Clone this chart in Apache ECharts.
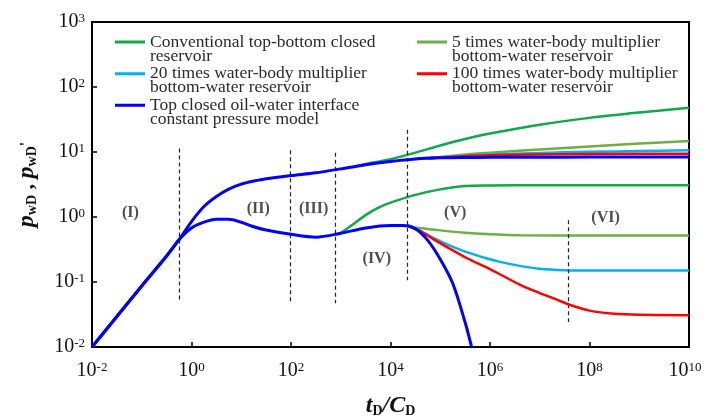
<!DOCTYPE html>
<html>
<head>
<meta charset="utf-8">
<script src="https://cdn.jsdelivr.net/npm/echarts@6/dist/echarts.min.js"></script>
<style>
html, body { margin: 0; padding: 0; background: #fff; }
#main { width: 704px; height: 417px; }
</style>
</head>
<body>
<div id="main"></div>
<script>
// names of the five models (two-line legend text)
const nameConv = 'Conventional top-bottom closed\nreservoir'
const name20 = '20 times water-body multiplier\nbottom-water reservoir'
const nameTop = 'Top closed oil-water interface\nconstant pressure model'
const name5 = '5 times water-body multiplier\nbottom-water reservoir'
const name100 = '100 times water-body multiplier\nbottom-water reservoir'

// top closed model (blue): pressure and derivative, full range
const tTopP = [0.01, 0.0316, 0.1, 0.316, 0.562, 1, 1.78, 3.16, 5.62, 10, 17.8, 31.6, 100, 316, 1000, 3160, 1e4, 31600, 1e5, 316000, 1e6, 1e7, 1e8, 1e9, 1e10]
const pTopP = [0.01, 0.0295, 0.087, 0.251, 0.447, 0.851, 1.45, 2.07, 2.69, 3.2, 3.57, 3.89, 4.35, 4.79, 5.5, 6.38, 7.16, 7.8, 8.13, 8.24, 8.28, 8.32, 8.34, 8.36, 8.38]
const tTopD = [0.01, 0.0316, 0.1, 0.316, 0.562, 1, 1.78, 3.16, 5.62, 10, 17.8, 31.6, 100, 316, 1000, 3160, 1e4, 17800, 31600, 56200, 1e5, 178000, 316000, 427000]
const pTopD = [0.01, 0.0295, 0.087, 0.251, 0.447, 0.676, 0.832, 0.923, 0.923, 0.832, 0.708, 0.631, 0.542, 0.49, 0.562, 0.679, 0.741, 0.741, 0.661, 0.437, 0.224, 0.0955, 0.024, 0.01]

// conventional closed reservoir (branches off the blue curves)
const tConvP = [1780, 3160, 1e4, 31600, 1e5, 316000, 1e6, 1e7, 1e8, 1e9, 1e10]
const pConvP = [5.96, 6.53, 7.76, 9.77, 12.6, 15.8, 19.2, 26.3, 33.5, 40.5, 47.9]
const tConvD = [780, 1000, 1780, 3160, 5620, 1e4, 31600, 1e5, 316000, 1e6, 1e7, 1e8, 1e10]
const pConvD = [0.537, 0.569, 0.776, 1.07, 1.38, 1.66, 2.19, 2.66, 2.99, 3.05, 3.09, 3.09, 3.09]

// 5 times multiplier
const t5P = [31600, 1e5, 316000, 1e6, 1e7, 1e8, 1e9, 1e10]
const p5P = [7.82, 8.41, 9.12, 9.77, 10.96, 12.2, 13.5, 14.8]
const t5D = [22400, 31600, 72000, 316000, 1e6, 4e6, 1e8, 1e10]
const p5D = [0.733, 0.69, 0.64, 0.57, 0.543, 0.525, 0.52, 0.519]

// 20 times multiplier
const t20P = [56200, 1e5, 316000, 1e6, 1e7, 1e8, 1e9, 1e10]
const p20P = [7.94, 8.22, 8.71, 9.12, 9.66, 10.07, 10.35, 10.6]
const t20D = [22400, 40000, 72400, 158000, 339000, 1e6, 1.58e6, 3.98e6, 1e7, 3.16e7, 1e8, 1e10]
const p20D = [0.733, 0.61, 0.479, 0.363, 0.288, 0.224, 0.204, 0.177, 0.16, 0.152, 0.15, 0.15]

// 100 times multiplier
const t100P = [56200, 1e5, 316000, 1e6, 1e7, 1e8, 1e10]
const p100P = [7.94, 8.2, 8.61, 8.91, 9.18, 9.33, 9.44]
const t100D = [22400, 40000, 72400, 158000, 339000, 1e6, 3.98e6, 1e7, 2.19e7, 3.98e7, 1e8, 3.16e8, 1e9, 1e10]
const p100D = [0.733, 0.603, 0.457, 0.324, 0.234, 0.158, 0.0912, 0.0676, 0.0537, 0.0447, 0.0363, 0.0324, 0.0313, 0.0309]

// flow regime dividers (dashed) and labels
const divT = [0.58, 97, 780, 22000, 3.8e7]
const divTop = [11.3, 10.6, 9.7, 22, 0.89]
const divBottom = [0.054, 0.05, 0.047, 0.106, 0.0243]
const regionNames = ['(I)', '(II)', '(III)', '(IV)', '(V)', '(VI)']
const regionT = [0.059, 22, 285, 5300, 200000, 2.1e8]
const regionP = [1.15, 1.32, 1.35, 0.23, 1.17, 0.98]

// x ticks every 2 decades, y ticks every decade
const xTicks = [-2, 0, 2, 4, 6, 8, 10]
const yTicks = [-2, -1, 0, 1, 2, 3]

function pts(ts, ps) {
    return ts.map(function (t, i) { return [Math.log10(t), Math.log10(ps[i])] })
}

const serif = 'Liberation Serif'
const supLabel = {
    b: { fontFamily: serif, fontSize: 20, color: '#111' },
    s: { fontFamily: serif, fontSize: 13, color: '#111', verticalAlign: 'top' },
    gap: { width: 8 }
}

function curve(name, color, width, data, z) {
    return {
        name: name,
        type: 'line',
        data: data,
        showSymbol: false,
        smooth: 0.3,
        z: z,
        lineStyle: { color: color, width: width },
        itemStyle: { color: color }
    }
}

// legend line sits at the top of a 30x17 box so it lines up with the first text line
const legendIcon = 'path://M0,0h30v3h-30z M0,16.99h0.01v0.01h-0.01z'

function legendAt(name, left, top) {
    return {
        data: [name],
        left: left,
        top: top,
        padding: 0,
        icon: legendIcon,
        itemWidth: 30,
        itemHeight: 17,
        selectedMode: false,
        textStyle: {
            fontFamily: serif,
            fontSize: 17.5,
            lineHeight: 14,
            color: '#2a2a2a'
        }
    }
}

var chart = echarts.init(document.getElementById('main'))

var option = {
    animation: false,
    backgroundColor: '#fff',
    grid: {
        left: 92, right: 15, top: 22, bottom: 70,
        outerBoundsMode: 'none',
        containLabel: false,
        show: true, borderColor: '#000', borderWidth: 2
    },
    legend: [
        legendAt(nameConv, 115, 33),
        legendAt(name20, 115, 64.7),
        legendAt(nameTop, 115, 96.3),
        legendAt(name5, 417, 33),
        legendAt(name100, 417, 64.7)
    ],
    xAxis: {
        type: 'value',
        min: -2, max: 10, interval: 2,
        name: '{i|t}{sub|D}{i|/C}{sub|D}',
        nameLocation: 'middle',
        nameGap: 47,
        nameTextStyle: {
            rich: {
                i: { fontFamily: serif, fontSize: 24, fontWeight: 'bold', fontStyle: 'italic', color: '#111' },
                sub: { fontFamily: serif, fontSize: 14, fontWeight: 'bold', color: '#111', verticalAlign: 'bottom' }
            }
        },
        axisLine: { onZero: false, lineStyle: { color: '#000', width: 2 } },
        axisTick: { inside: true, length: 5, lineStyle: { color: '#000', width: 1.5 } },
        splitLine: { show: false },
        axisLabel: {
            margin: 14,
            formatter: function (v) {
                if (xTicks.indexOf(v) < 0) return ''
                // last label is nudged left so it stays inside the page
                return '{b|10}{s|' + v + '}' + (v === 10 ? '{gap|}' : '')
            },
            rich: supLabel
        }
    },
    yAxis: {
        type: 'value',
        min: -2, max: 3, interval: 1,
        name: '{i|p}{sub|wD}{c| , }{i|p}{sub|wD}{sup|\'}',
        nameLocation: 'middle',
        nameGap: 53,
        nameTextStyle: {
            rich: {
                i: { fontFamily: serif, fontSize: 24, fontWeight: 'bold', fontStyle: 'italic', color: '#111' },
                sub: { fontFamily: serif, fontSize: 14, fontWeight: 'bold', color: '#111', verticalAlign: 'bottom' },
                c: { fontFamily: serif, fontSize: 22, fontWeight: 'bold', color: '#111' },
                sup: { fontFamily: serif, fontSize: 16, fontWeight: 'bold', color: '#111', verticalAlign: 'middle' }
            }
        },
        axisLine: { onZero: false, lineStyle: { color: '#000', width: 2 } },
        axisTick: { inside: true, length: 5, lineStyle: { color: '#000', width: 1.5 } },
        splitLine: { show: false },
        axisLabel: {
            margin: 7,
            formatter: function (v) { return yTicks.indexOf(v) >= 0 ? '{b|10}{s|' + v + '}' : '' },
            rich: supLabel
        }
    },
    series: [
        curve(nameConv, '#10a84a', 2.5, pts(tConvP, pConvP), 2),
        curve(nameConv, '#10a84a', 2.5, pts(tConvD, pConvD), 2),
        curve(name5, '#70ad47', 2.5, pts(t5P, p5P), 3),
        curve(name5, '#70ad47', 2.5, pts(t5D, p5D), 3),
        curve(name20, '#00b0f0', 2.5, pts(t20P, p20P), 4),
        curve(name20, '#00b0f0', 2.5, pts(t20D, p20D), 4),
        curve(name100, '#ff0000', 2.5, pts(t100P, p100P), 5),
        curve(name100, '#ff0000', 2.5, pts(t100D, p100D), 5),
        curve(nameTop, '#0000ff', 3, pts(tTopP, pTopP), 6),
        curve(nameTop, '#0000ff', 3, pts(tTopD, pTopD), 6),
        {
            name: 'regions',
            type: 'scatter',
            symbolSize: 0,
            silent: true,
            z: 7,
            data: regionNames.map(function (n, i) {
                return { name: n, value: [Math.log10(regionT[i]), Math.log10(regionP[i])] }
            }),
            label: {
                show: true,
                position: 'inside',
                formatter: '{b}',
                fontFamily: serif,
                fontSize: 16,
                fontWeight: 'bold',
                color: '#222'
            },
            markLine: {
                silent: true,
                symbol: 'none',
                label: { show: false },
                lineStyle: { color: '#222', width: 1.2, type: [4, 3] },
                data: divT.map(function (t, i) {
                    return [
                        { coord: [Math.log10(t), Math.log10(divTop[i])] },
                        { coord: [Math.log10(t), Math.log10(divBottom[i])] }
                    ]
                })
            }
        }
    ]
}

chart.setOption(option)
</script>
</body>
</html>
